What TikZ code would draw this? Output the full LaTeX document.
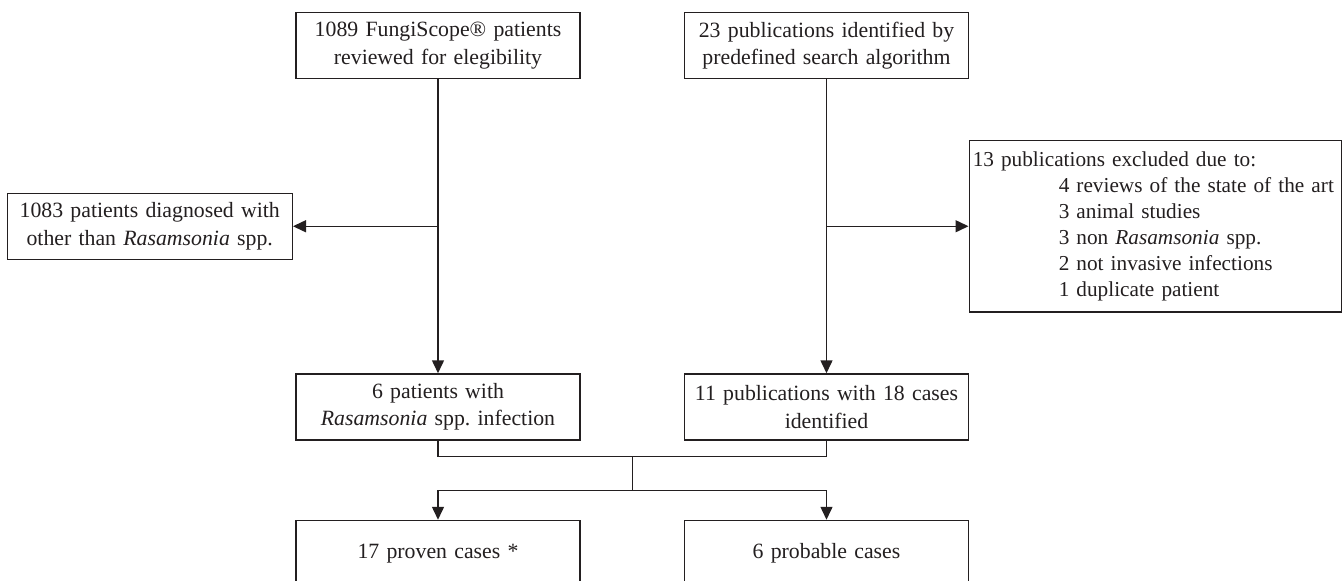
\documentclass[tikz,border=0pt]{standalone}
\usepackage{fontspec}
\setmainfont{Liberation Serif}
\usepackage{xcolor}
\usepackage{tikz}
\usetikzlibrary{arrows.meta, positioning, calc}
\definecolor{mydark}{RGB}{35,31,32}
\frenchspacing
\tikzset{
  box/.style={rectangle, draw=mydark, fill=white, text=mydark,
    text width=5.48cm, inner xsep=0.1cm, align=center,
    minimum height=1.32cm, line width=0.85pt,
    font=\fontsize{12.4}{15.6}\selectfont},
  sidebox/.style={box, text width=5.5cm},
  exclbox/.style={box, text width=7.3cm, inner xsep=0.07cm, align=left,
    minimum height=3.42cm, font=\fontsize{12.1}{14.8}\selectfont},
  arrow/.style={-{Triangle[length=2.6mm, width=2.4mm]}, line width=0.85pt, color=mydark},
  line/.style={line width=0.85pt, color=mydark}
}
\newcommand{\exclitem}[1]{\hspace*{1.72cm}\mbox{#1}}
\begin{document}
\begin{tikzpicture}[node distance=1.58cm and 2.06cm]
  \useasboundingbox (0,0) rectangle (26.88,-11.6);
  \clip (0,0) rectangle (26.88,-11.6);
  \node[box] (fungi) at (8.76,-0.91) {1089 FungiScope\textregistered{} patients\\reviewed for elegibility};
  \node[box, right=of fungi] (pubs) {23 publications identified by\\predefined search algorithm};
  \node[box, below=5.88cm of fungi] (rasa) {6 patients with\\\textit{Rasamsonia} spp. infection};
  \node[box, below=5.88cm of pubs] (found) {11 publications with 18 cases\\identified};
  \node[box, below=of rasa] (proven) {17 proven cases *};
  \node[box, below=of found] (probable) {6 probable cases};
  \coordinate (ltap) at ($(fungi.south)!0.5!(rasa.north)$);
  \coordinate (rtap) at ($(pubs.south)!0.5!(found.north)$);
  \node[sidebox, left=2.9cm of ltap] (other) {1083 patients diagnosed with\\other than \textit{Rasamsonia} spp.};
  \node[exclbox, right=2.84cm of rtap] (excl) {13 publications excluded due to:\\
    \exclitem{4 reviews of the state of the art}\\
    \exclitem{3 animal studies}\\
    \exclitem{3 non \textit{Rasamsonia} spp.}\\
    \exclitem{2 not invasive infections}\\
    \exclitem{1 duplicate patient}};
  \draw[arrow] (fungi) -- (rasa);
  \draw[arrow] (pubs) -- (found);
  \draw[arrow] (ltap) -- (other);
  \draw[arrow] (rtap) -- (excl);
  \coordinate (join) at ($(rasa.south)!0.5!(found.south) + (0,-0.32)$);
  \coordinate (split) at ($(join) + (0,-0.68)$);
  \draw[line] (rasa.south) |- (join) -| (found.south);
  \draw[line] (join) -- (split);
  \draw[arrow] (split) -| (proven.north);
  \draw[arrow] (split) -| (probable.north);
\end{tikzpicture}
\end{document}
